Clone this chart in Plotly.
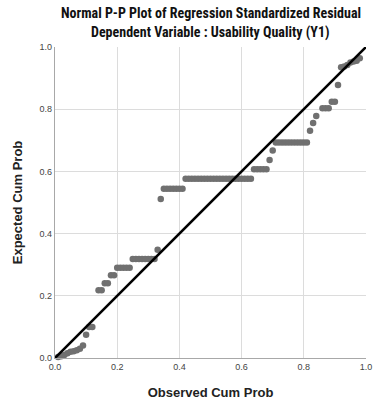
import plotly.graph_objects as go

# Observed cumulative probability (x) and expected cumulative probability (y)
observed = [0.01, 0.02, 0.03, 0.04, 0.05, 0.06, 0.07, 0.08, 0.09, 0.10,
            0.11, 0.12, 0.14, 0.15, 0.16, 0.17, 0.18, 0.19,
            0.20, 0.21, 0.22, 0.23, 0.24,
            0.25, 0.26, 0.27, 0.28, 0.29, 0.30, 0.31, 0.32,
            0.33, 0.34,
            0.35, 0.36, 0.37, 0.38, 0.39, 0.40, 0.41,
            0.42, 0.43, 0.44, 0.45, 0.46, 0.47, 0.48, 0.49, 0.50, 0.51, 0.52,
            0.53, 0.54, 0.55, 0.56, 0.57, 0.58, 0.59, 0.60, 0.61, 0.62, 0.63,
            0.64, 0.65, 0.66, 0.67, 0.68,
            0.69, 0.70,
            0.71, 0.72, 0.73, 0.74, 0.75, 0.76, 0.77, 0.78, 0.79, 0.80, 0.81,
            0.82, 0.83, 0.84,
            0.86, 0.87, 0.88,
            0.89, 0.90,
            0.91, 0.92, 0.93, 0.94, 0.95, 0.96, 0.97, 0.98]
expected = [0.003, 0.006, 0.010, 0.015, 0.020, 0.022, 0.025, 0.030, 0.040, 0.075,
            0.100, 0.100, 0.218, 0.218, 0.240, 0.240, 0.266, 0.266,
            0.290, 0.290, 0.290, 0.290, 0.290,
            0.318, 0.318, 0.318, 0.318, 0.318, 0.318, 0.318, 0.318,
            0.348, 0.511,
            0.544, 0.544, 0.544, 0.544, 0.544, 0.544, 0.544,
            0.576, 0.576, 0.576, 0.576, 0.576, 0.576, 0.576, 0.576, 0.576, 0.576, 0.576,
            0.576, 0.576, 0.576, 0.576, 0.576, 0.576, 0.576, 0.576, 0.576, 0.576, 0.576,
            0.607, 0.607, 0.607, 0.607, 0.607,
            0.637, 0.667,
            0.693, 0.693, 0.693, 0.693, 0.693, 0.693, 0.693, 0.693, 0.693, 0.693, 0.693,
            0.731, 0.756, 0.778,
            0.803, 0.803, 0.803,
            0.824, 0.824,
            0.878, 0.935, 0.937, 0.942, 0.950, 0.953, 0.956, 0.964]

ref_line = [0.0, 1.0]
tick_vals = [0.0, 0.2, 0.4, 0.6, 0.8, 1.0]
tick_text = ["0.0", "0.2", "0.4", "0.6", "0.8", "1.0"]
title_lines = ["Normal P-P Plot of Regression Standardized Residual",
               "Dependent Variable : Usability Quality (Y1)"]

fig = go.Figure()
fig.add_trace(go.Scatter(
    x=observed, y=expected, mode="markers",
    marker=dict(color="#707070", size=6.5, line=dict(width=0)),
    cliponaxis=False, showlegend=False))
fig.add_trace(go.Scatter(
    x=ref_line, y=ref_line, mode="lines",
    line=dict(color="#000000", width=2.6),
    cliponaxis=False, showlegend=False))

axis_common = dict(
    range=[0, 1], tickvals=tick_vals, ticktext=tick_text, automargin=False,
    showgrid=True, gridcolor="#dcdcdc", gridwidth=1.4,
    zeroline=False, showline=True, linecolor="#a8a8a8", linewidth=1.2,
    ticks="", tickfont=dict(family="Liberation Sans, Arial, sans-serif", size=9, color="#444444"),
    title_font=dict(family="Liberation Sans, Arial, sans-serif", size=13, color="#222222"),
)

fig.update_layout(
    width=373, height=405,
    margin=dict(l=55, r=7, t=47, b=47),
    paper_bgcolor="white", plot_bgcolor="white",
    xaxis=dict(axis_common, title=dict(text="<b>Observed Cum Prob</b>", standoff=16)),
    yaxis=dict(axis_common, title=dict(text="<b>Expected Cum Prob</b>", standoff=14)),
)

title_font = dict(family="Liberation Sans Narrow, Roboto Condensed, Liberation Sans, sans-serif",
                  size=14, color="#111111")
for text, ypos in zip(title_lines, [1.11, 1.047]):
    fig.add_annotation(text="<b>" + text + "</b>", xref="paper", yref="paper",
                       x=0.5, y=ypos, xanchor="center", yanchor="middle",
                       showarrow=False, font=title_font)

fig.write_html("out.html")
